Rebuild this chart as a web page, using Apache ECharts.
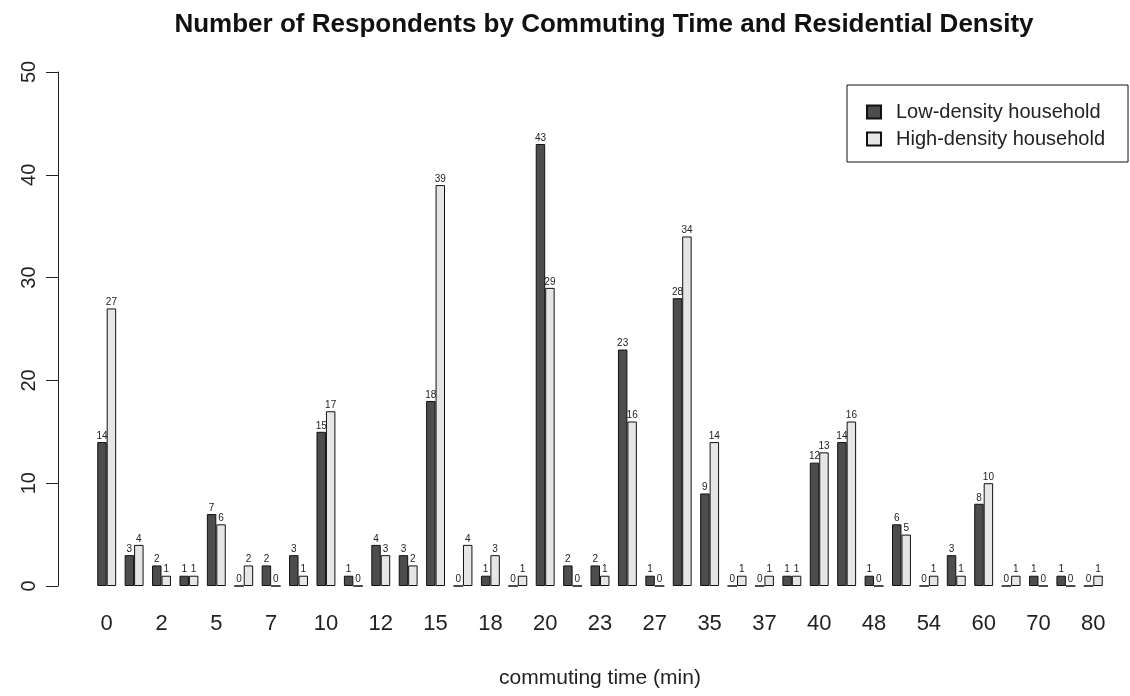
<!DOCTYPE html>
<html>
<head>
<meta charset="utf-8">
<script src="https://cdn.jsdelivr.net/npm/echarts@6/dist/echarts.min.js"></script>
<style>
html,body{margin:0;padding:0;background:#fff;}
#chart{width:1130px;height:696px;}
</style>
</head>
<body>
<div id="chart"></div>
<script>
// commuting time categories (every other label shown, as in the reference)
const categories = ['0','1','2','3','5','6','7','8','10','11','12','13','15','17','18','19','20','22','23','25','27','30','35','36','37','38','40','45','48','50','54','55','60','65','70','75','80'];
const lowDensity  = [14,3,2,1,7,0,2,3,15,1,4,3,18,0,1,0,43,2,2,23,1,28,9,0,0,1,12,14,1,6,0,3,8,0,1,1,0];
const highDensity = [27,4,1,1,6,2,0,1,17,0,3,2,39,4,3,1,29,0,1,16,0,34,14,1,1,1,13,16,0,5,1,1,10,1,0,0,1];
const yTicks = [0,10,20,30,40,50];

const chart = echarts.init(document.getElementById('chart'));
const font = 'Liberation Sans, Arial, sans-serif';
const labelCfg = {show:true, position:'top', distance:1, fontSize:10, color:'#222', fontFamily:font};
chart.setOption({
  animation:false,
  backgroundColor:'#fff',
  title:{
    text:'Number of Respondents by Commuting Time and Residential Density',
    left:599, top:7, textAlign:'center',
    textStyle:{fontFamily:font, fontWeight:'bold', fontSize:26, color:'#111'}
  },
  legend:{
    orient:'vertical', left:847, top:85,
    borderColor:'#111', borderWidth:1, padding:[17,23,13,19],
    icon:'rect', itemWidth:14, itemHeight:13, itemGap:7,
    textStyle:{fontFamily:font, fontSize:20, color:'#222', padding:[0,0,0,10]},
    data:['Low-density household','High-density household']
  },
  grid:{left:93, right:23, top:72, bottom:110},
  xAxis:{
    type:'category', data:categories,
    axisLine:{show:false}, axisTick:{show:false},
    axisLabel:{interval:1, fontFamily:font, fontSize:22, color:'#222', margin:27},
    name:'commuting time (min)', nameLocation:'middle', nameGap:82,
    nameTextStyle:{fontFamily:font, fontSize:21, color:'#222'}
  },
  yAxis:{
    type:'value', min:0, max:50, interval:10, offset:35,
    axisLine:{show:true, lineStyle:{color:'#222', width:1}},
    axisTick:{show:true, length:12, lineStyle:{color:'#222'}},
    splitLine:{show:false},
    axisLabel:{rotate:90, fontFamily:font, fontSize:20, color:'#222', margin:19,
      formatter:v=>yTicks.includes(v)?String(v):''}
  },
  series:[
    {name:'Low-density household', type:'bar', data:lowDensity,
     barGap:'0%', barCategoryGap:'31%',
     itemStyle:{color:'#4d4d4d', borderColor:'#111', borderWidth:1},
     label:labelCfg},
    {name:'High-density household', type:'bar', data:highDensity,
     barGap:'0%', barCategoryGap:'31%',
     itemStyle:{color:'#e6e6e6', borderColor:'#111', borderWidth:1},
     label:labelCfg}
  ]
});
</script>
</body>
</html>
